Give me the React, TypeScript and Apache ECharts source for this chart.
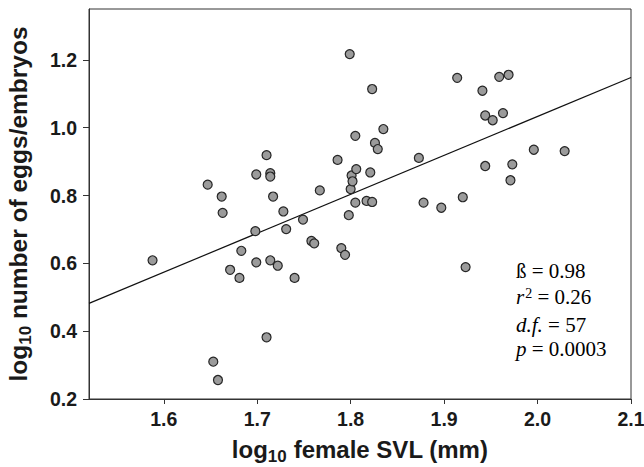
import React, { useEffect, useRef } from "react";
import * as echarts from "echarts";

// log10 female SVL (mm)
const svl = [
  1.588, 1.647, 1.653, 1.658, 1.662, 1.663, 1.671, 1.681, 1.683, 1.698,
  1.699, 1.699, 1.710, 1.710, 1.714, 1.714, 1.714, 1.717, 1.722, 1.728,
  1.731, 1.740, 1.749, 1.758, 1.761, 1.767, 1.786, 1.790, 1.794, 1.798,
  1.799, 1.800, 1.801, 1.802, 1.805, 1.805, 1.806, 1.817, 1.821, 1.823,
  1.823, 1.826, 1.829, 1.835, 1.873, 1.878, 1.897, 1.914, 1.920, 1.923,
  1.941, 1.944, 1.944, 1.952, 1.959, 1.963, 1.969, 1.971, 1.973, 1.996,
  2.029,
];
// log10 number of eggs/embryos
const eggs = [
  0.609, 0.832, 0.310, 0.256, 0.797, 0.749, 0.581, 0.557, 0.637, 0.695,
  0.862, 0.603, 0.919, 0.382, 0.866, 0.856, 0.609, 0.797, 0.593, 0.753,
  0.701, 0.557, 0.729, 0.666, 0.659, 0.815, 0.905, 0.645, 0.625, 0.742,
  1.217, 0.819, 0.859, 0.842, 0.976, 0.779, 0.878, 0.784, 0.868, 1.114,
  0.781, 0.955, 0.937, 0.996, 0.911, 0.779, 0.764, 1.147, 0.795, 0.589,
  1.109, 1.036, 0.887, 1.022, 1.150, 1.043, 1.156, 0.845, 0.892, 0.935,
  0.931,
];
// regression line end points
const fitX = [1.52, 2.1];
const fitY = [0.482, 1.148];

const xTicks = [1.6, 1.7, 1.8, 1.9, 2.0, 2.1];
const yTicks = [0.2, 0.4, 0.6, 0.8, 1.0, 1.2];

const statLines = [
  "{n|ß = 0.98}",
  "{i|r}{sup|2}{n| = 0.26}",
  "{i|d.f.}{n| = 57}",
  "{i|p}{n| = 0.0003}",
];

const SANS = "'Liberation Sans', Arial, Helvetica, sans-serif";
const SERIF = "'Liberation Serif', 'Times New Roman', serif";

export default function App() {
  const ref = useRef<HTMLDivElement>(null);
  useEffect(() => {
    document.body.style.margin = "0";
    const chart = echarts.init(ref.current!, undefined, { renderer: "svg" });
    const titleRich = {
      m: { fontSize: 24.5, fontWeight: "bold", fontFamily: SANS, color: "#1a1a1a", verticalAlign: "top", lineHeight: 27 },
      s: { fontSize: 17, fontWeight: "bold", fontFamily: SANS, color: "#1a1a1a", verticalAlign: "top", lineHeight: 17, padding: [11, 0, 0, 0] },
    };
    const xTitleRich = {
      m: { ...titleRich.m, fontSize: 24 },
      s: titleRich.s,
    };
    const statRich = {
      n: { fontSize: 21, fontFamily: SERIF, color: "#1a1a1a", verticalAlign: "top", lineHeight: 28 },
      i: { fontSize: 21, fontFamily: SERIF, fontStyle: "italic", color: "#1a1a1a", verticalAlign: "top", lineHeight: 28 },
      sup: { fontSize: 14, fontFamily: SERIF, color: "#1a1a1a", verticalAlign: "top", lineHeight: 14, padding: [0, 0, 0, 1] },
    };
    const statY = [271, 297, 325, 349];
    chart.setOption({
      animation: false,
      backgroundColor: "#ffffff",
      grid: {
        left: 89,
        top: 9,
        right: 13,
        bottom: 68,
        show: true,
        borderColor: "#333",
        borderWidth: 1,
        containLabel: false,
        outerBoundsMode: "none",
      },
      xAxis: {
        type: "value",
        min: 1.52,
        max: 2.1,
        axisLine: { show: true, onZero: false, lineStyle: { color: "#333", width: 1 } },
        axisTick: { show: true, inside: false, length: 5, customValues: xTicks, lineStyle: { color: "#333" } },
        axisLabel: {
          customValues: xTicks,
          formatter: (v: number) => v.toFixed(1),
          fontSize: 19.5,
          fontWeight: "bold",
          fontFamily: SANS,
          color: "#1a1a1a",
          margin: 10,
        },
        splitLine: { show: false },
        name: "{m|log}{s|10}{m| female SVL (mm)}",
        nameLocation: "middle",
        nameGap: 38,
        nameTextStyle: { rich: xTitleRich },
      },
      yAxis: {
        type: "value",
        min: 0.2,
        max: 1.35,
        interval: 0.2,
        axisLine: { show: true, onZero: false, lineStyle: { color: "#333", width: 1 } },
        axisTick: { show: true, inside: false, length: 6, customValues: yTicks, lineStyle: { color: "#333" } },
        axisLabel: {
          customValues: yTicks,
          formatter: (v: number) => v.toFixed(1),
          fontSize: 19.5,
          fontWeight: "bold",
          fontFamily: SANS,
          color: "#1a1a1a",
          margin: 12,
        },
        splitLine: { show: false },
        name: "{m|log}{s|10}{m| number of eggs/embryos}",
        nameLocation: "middle",
        nameRotate: 90,
        nameGap: 56,
        nameTextStyle: { rich: titleRich },
      },
      series: [
        {
          type: "line",
          data: fitX.map((x, i) => [x, fitY[i]]),
          symbol: "none",
          lineStyle: { color: "#111", width: 1.2 },
          z: 2,
          silent: true,
        },
        {
          type: "scatter",
          data: svl.map((x, i) => [x, eggs[i]]),
          symbol: "circle",
          symbolSize: 9,
          itemStyle: { color: "#9b9b9b", borderColor: "#262626", borderWidth: 1.2, opacity: 1 },
          z: 3,
        },
      ],
      graphic: statLines.map((t, i) => ({
        type: "text",
        x: 516,
        y: statY[i] - 11,
        z: 10,
        style: { text: t, rich: statRich, textAlign: "left", textVerticalAlign: "top" },
      })),
    });
    return () => chart.dispose();
  }, []);
  return <div ref={ref} style={{ width: 644, height: 467 }} />;
}
